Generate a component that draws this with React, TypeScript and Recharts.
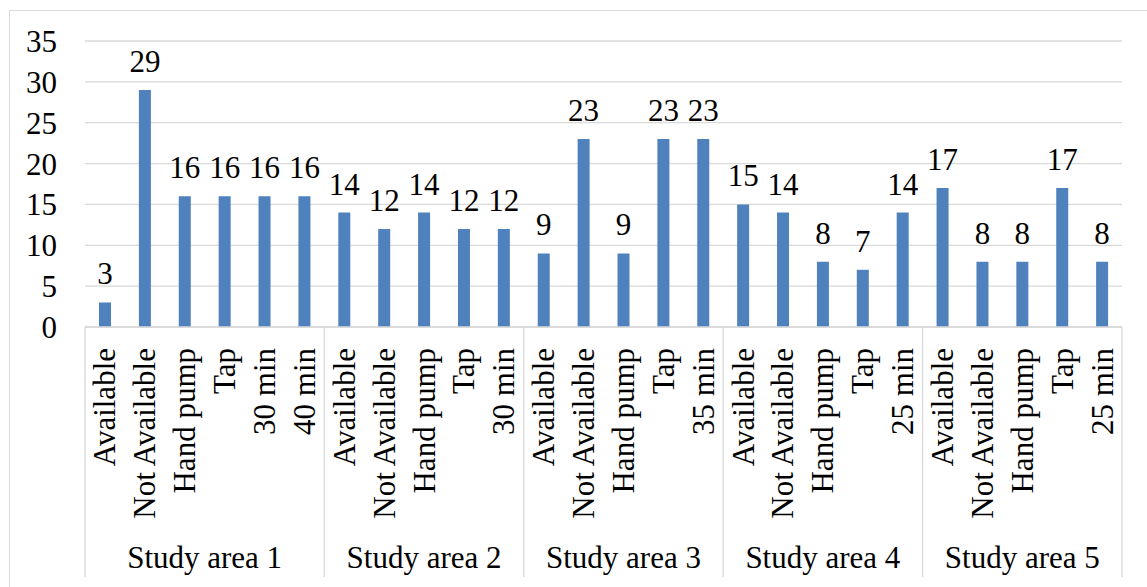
import { Bar, BarChart, CartesianGrid, LabelList, XAxis, YAxis } from 'recharts';

// Water source survey: availability, source type and walking time per study area.
const GROUPS = ['Study area 1', 'Study area 2', 'Study area 3', 'Study area 4', 'Study area 5'];

const GROUP_ITEMS: string[][] = [
  ['Available', 'Not Available', 'Hand pump', 'Tap', '30 min', '40 min'],
  ['Available', 'Not Available', 'Hand pump', 'Tap', '30 min'],
  ['Available', 'Not Available', 'Hand pump', 'Tap', '35 min'],
  ['Available', 'Not Available', 'Hand pump', 'Tap', '25 min'],
  ['Available', 'Not Available', 'Hand pump', 'Tap', '25 min'],
];

const GROUP_VALUES: number[][] = [
  [3, 29, 16, 16, 16, 16],
  [14, 12, 14, 12, 12],
  [9, 23, 9, 23, 23],
  [15, 14, 8, 7, 14],
  [17, 8, 8, 17, 8],
];

const Y_TICKS = [0, 5, 10, 15, 20, 25, 30, 35];

interface Row {
  label: string;
  value: number;
  group: number;
  first: boolean;
  last: boolean;
  size: number;
}

const rows: Row[] = GROUPS.flatMap((_, g) =>
  GROUP_ITEMS[g].map((label, i) => ({
    label,
    value: GROUP_VALUES[g][i],
    group: g,
    first: i === 0,
    last: g === GROUPS.length - 1 && i === GROUP_ITEMS[g].length - 1,
    size: GROUP_ITEMS[g].length,
  })),
);

const WIDTH = 1147;
const HEIGHT = 587;
const MARGIN = { top: 41, right: 25, bottom: 10, left: 0 };
const Y_AXIS_WIDTH = 85;
const X_AXIS_HEIGHT = 250;
const BAND = (WIDTH - MARGIN.left - MARGIN.right - Y_AXIS_WIDTH) / rows.length;

const FONT = '"Liberation Serif", "Times New Roman", serif';
const FONT_SIZE = 31;
const BAR_COLOR = '#4F81BD';
const LINE_COLOR = '#d9d9d9';

// Rotated category name, plus the group separators and group caption
// drawn from the first item of each group.
function CategoryTick(props: any) {
  const { x, y, payload } = props;
  const row = rows[payload.index];
  if (!row) return null;
  const left = x - BAND / 2;
  return (
    <g>
      <text
        transform={`translate(${x}, ${y + 21}) rotate(-90)`}
        textAnchor="end"
        dominantBaseline="central"
        fontFamily={FONT}
        fontSize={FONT_SIZE}
        fill="#000"
      >
        {row.label}
      </text>
      {row.first && (
        <>
          <line x1={left} x2={left} y1={y} y2={y + X_AXIS_HEIGHT} stroke={LINE_COLOR} strokeWidth={1.3} />
          <text
            x={left + (BAND * row.size) / 2}
            y={y + 241}
            textAnchor="middle"
            fontFamily={FONT}
            fontSize={FONT_SIZE}
            fill="#000"
          >
            {GROUPS[row.group]}
          </text>
        </>
      )}
      {row.last && (
        <line
          x1={x + BAND / 2}
          x2={x + BAND / 2}
          y1={y}
          y2={y + X_AXIS_HEIGHT}
          stroke={LINE_COLOR}
          strokeWidth={1.3}
        />
      )}
    </g>
  );
}

export default function App() {
  return (
    <div
      style={{
        position: 'relative',
        width: WIDTH,
        height: HEIGHT,
        overflow: 'hidden',
        background: '#fff',
        fontFamily: FONT,
      }}
    >
      <style>{'body { margin: 0; }'}</style>
      <div
        style={{
          position: 'absolute',
          left: 9,
          top: 10,
          width: 1300,
          height: 800,
          border: `1px solid ${LINE_COLOR}`,
        }}
      />
      <div style={{ position: 'absolute', left: 0, top: 0 }}>
        <BarChart width={WIDTH} height={HEIGHT} data={rows} margin={MARGIN} barCategoryGap={0}>
          <CartesianGrid vertical={false} stroke={LINE_COLOR} strokeWidth={1.3} />
          <XAxis
            dataKey="label"
            interval={0}
            height={X_AXIS_HEIGHT}
            tickLine={false}
            tickSize={0}
            tickMargin={0}
            axisLine={{ stroke: LINE_COLOR, strokeWidth: 1.3 }}
            tick={<CategoryTick />}
            allowDuplicatedCategory
          />
          <YAxis
            width={Y_AXIS_WIDTH}
            domain={[0, 35]}
            ticks={Y_TICKS}
            interval={0}
            axisLine={false}
            tickLine={false}
            tickSize={0}
            tickMargin={28}
            tick={{ fill: '#000', fontSize: FONT_SIZE, fontFamily: FONT }}
          />
          <Bar dataKey="value" fill={BAR_COLOR} barSize={12} isAnimationActive={false}>
            <LabelList
              dataKey="value"
              position="top"
              offset={18}
              fill="#000"
              fontSize={FONT_SIZE}
              fontFamily={FONT}
            />
          </Bar>
        </BarChart>
      </div>
    </div>
  );
}
